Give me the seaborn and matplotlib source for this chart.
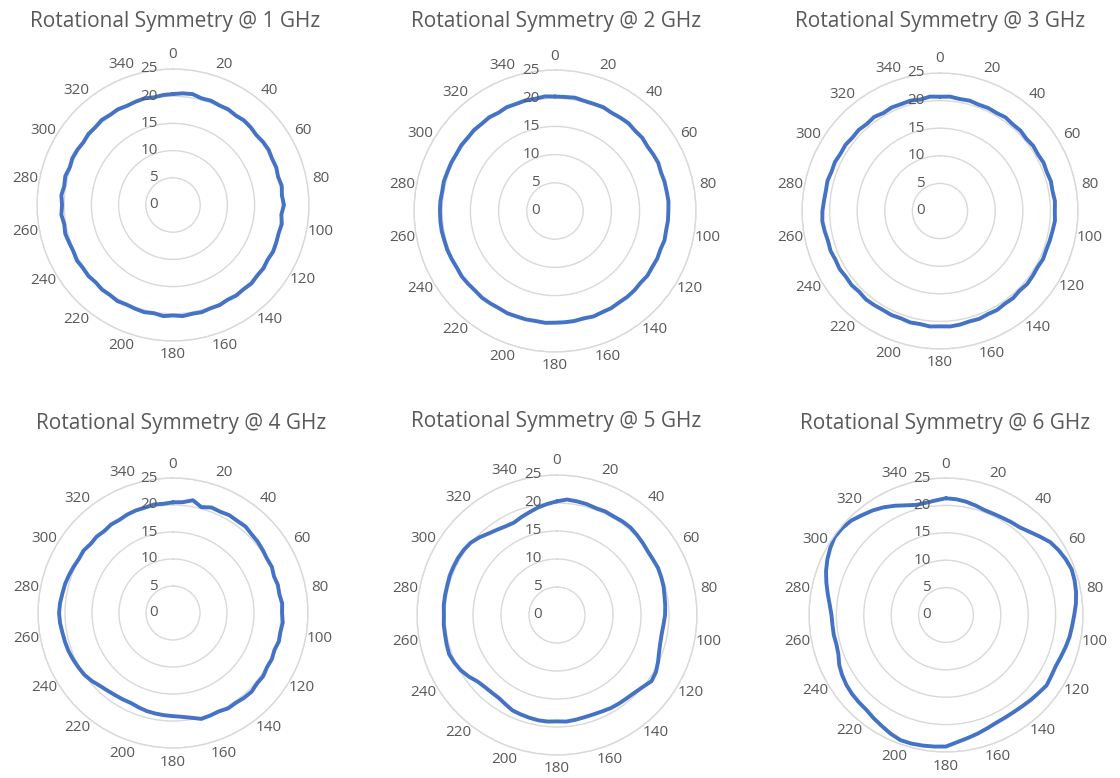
import numpy as np
import matplotlib
matplotlib.use("Agg")
import matplotlib.pyplot as plt
import matplotlib.transforms as mtransforms
import seaborn as sns

# angles every 5 degrees, radius values
angles = list(range(0, 360, 5))

ghz_1 = [20.4, 20.6, 20.7, 20.3, 20.4, 20.2, 20.3, 20.1, 20.3, 20.2, 20.0, 20.2,
         20.3, 20.1, 20.2, 20.0, 20.3, 20.1, 20.4, 20.0, 20.3, 20.1, 20.2, 20.3,
         20.1, 20.3, 20.2, 20.4, 20.2, 20.3, 20.1, 20.3, 20.2, 20.4, 20.3, 20.5,
         20.3, 20.5, 20.2, 20.4, 20.3, 20.2, 20.4, 20.2, 20.3, 20.1, 20.3, 20.2,
         20.4, 20.2, 20.3, 20.5, 20.3, 20.6, 20.4, 20.6, 20.3, 20.5, 20.2, 20.4,
         20.3, 20.1, 20.3, 20.2, 20.4, 20.2, 20.3, 20.1, 20.2, 20.3, 20.1, 20.3]

ghz_2 = [20.3, 20.3, 20.4, 20.2, 20.2, 20.3, 20.1, 20.2, 20.3, 20.1, 20.2, 20.0,
         20.1, 20.2, 20.0, 20.1, 20.1, 20.2, 20.1, 20.1, 20.0, 20.1, 19.9, 20.0,
         19.9, 20.0, 19.8, 19.9, 19.9, 19.8, 19.9, 19.8, 19.9, 19.7, 19.8, 19.8,
         19.8, 19.9, 19.8, 19.9, 19.9, 20.0, 19.9, 20.0, 20.1, 20.0, 20.1, 20.2,
         20.1, 20.2, 20.3, 20.3, 20.4, 20.4, 20.4, 20.4, 20.3, 20.4, 20.3, 20.3,
         20.2, 20.3, 20.2, 20.3, 20.2, 20.3, 20.1, 20.3, 20.2, 20.3, 20.2, 20.4]

ghz_3 = [20.7, 20.8, 20.6, 20.7, 20.5, 20.6, 20.5, 20.7, 20.5, 20.6, 20.4, 20.6,
         20.5, 20.7, 20.6, 20.8, 20.7, 20.9, 20.8, 20.9, 20.7, 20.6, 20.5, 20.6,
         20.4, 20.5, 20.6, 20.4, 20.6, 20.5, 20.7, 20.6, 20.8, 20.7, 20.9, 21.0,
         20.9, 21.0, 20.8, 20.9, 20.7, 20.8, 20.7, 20.8, 20.9, 20.7, 20.9, 20.8,
         21.0, 20.9, 21.1, 21.0, 21.2, 21.4, 21.3, 21.1, 21.0, 21.1, 20.9, 21.0,
         20.8, 20.9, 20.7, 20.8, 20.6, 20.8, 20.5, 20.7, 20.6, 20.7, 20.5, 20.8]

ghz_4 = [20.5, 20.6, 21.2, 20.3, 20.8, 20.7, 20.9, 20.8, 20.9, 20.6, 20.5, 20.3,
         20.1, 20.2, 19.9, 20.1, 20.0, 20.3, 20.2, 20.4, 20.2, 20.3, 20.0, 20.2,
         20.1, 20.4, 20.3, 20.6, 20.5, 20.3, 20.4, 20.1, 20.2, 20.3, 19.7, 19.3,
         19.1, 19.0, 18.9, 18.8, 18.6, 18.4, 18.5, 18.6, 18.8, 19.1, 19.6, 20.0,
         20.2, 20.4, 20.6, 20.7, 20.8, 21.0, 21.1, 21.0, 20.8, 20.7, 20.5, 20.3,
         20.1, 20.2, 19.9, 20.0, 19.8, 20.0, 19.9, 20.1, 20.2, 20.2, 20.4, 20.3]

ghz_5 = [20.3, 20.7, 20.6, 20.5, 20.3, 20.4, 20.3, 20.4, 20.4, 20.2, 20.0, 19.8,
         19.8, 19.9, 19.8, 19.7, 19.5, 19.4, 19.3, 19.1, 19.0, 19.1, 19.4, 19.9,
         20.4, 20.6, 20.0, 19.6, 19.4, 19.3, 19.2, 19.0, 18.9, 18.9, 19.0, 19.1,
         19.0, 19.1, 19.1, 19.0, 18.9, 18.8, 18.4, 18.1, 18.1, 18.2, 18.5, 19.2,
         19.8, 20.2, 20.5, 20.4, 20.3, 20.3, 20.2, 20.3, 20.3, 20.3, 20.4, 20.4,
         20.4, 20.3, 20.1, 19.6, 19.0, 18.6, 18.3, 18.2, 18.6, 19.0, 19.5, 19.9]

ghz_6 = [21.3, 21.2, 21.0, 20.7, 20.4, 20.4, 20.5, 20.7, 20.9, 21.5, 22.3, 23.2,
         23.7, 24.1, 24.4, 24.3, 24.1, 23.8, 23.4, 23.1, 22.9, 22.6, 22.3, 22.1,
         22.2, 22.4, 22.1, 21.9, 21.7, 21.6, 21.6, 21.7, 22.0, 22.4, 22.8, 23.3,
         24.0, 24.1, 24.2, 24.3, 24.3, 23.9, 23.4, 23.0, 22.6, 22.5, 22.4, 22.2,
         21.9, 21.5, 20.9, 20.7, 20.8, 20.8, 20.9, 21.3, 21.9, 22.6, 23.3, 23.9,
         24.4, 24.8, 24.7, 24.4, 23.8, 23.3, 22.7, 22.0, 21.3, 20.8, 20.8, 21.0]

series = [ghz_1, ghz_2, ghz_3, ghz_4, ghz_5, ghz_6]
titles = ["Rotational Symmetry @ %d GHz" % f for f in range(1, 7)]
r_ticks = [0, 5, 10, 15, 20, 25]
theta_ticks = list(range(0, 360, 20))

# chart centre (px), radius (px), title position (px)
panels = [
    (173, 205, 136, 175, 22),
    (555, 211, 141, 556, 22),
    (940, 211, 138, 940, 22),
    (173, 613, 135, 181, 424),
    (557, 615, 140, 556, 422),
    (946, 615, 137, 945, 424),
]

W, H = 1120, 778
sns.set_theme(style="white")
plt.rcParams["font.family"] = ["Open Sans", "DejaVu Sans"]
gray = "#595959"
grid = "#D9D9D9"
blue = "#4472C4"

fig = plt.figure(figsize=(W / 100, H / 100), dpi=100)

for vals, title, (cx, cy, R, tx, ty) in zip(series, titles, panels):
    ax = fig.add_axes([(cx - R) / W, (H - cy - R) / H, 2 * R / W, 2 * R / H],
                      projection="polar")
    ax.set_theta_zero_location("N")
    ax.set_theta_direction(-1)

    th = np.deg2rad(angles + [360])
    rr = vals + [vals[0]]
    sns.lineplot(x=th, y=rr, ax=ax, sort=False, estimator=None,
                 color=blue, linewidth=2.8)
    ax.set_xlabel("")
    ax.set_ylabel("")

    ax.set_ylim(0, 25)
    ax.set_yticks(r_ticks)
    ax.set_yticklabels([])
    ax.yaxis.grid(True, color=grid, linewidth=1.0)
    ax.xaxis.grid(False)
    ax.set_xticks([])
    ax.spines["polar"].set_color(grid)
    ax.spines["polar"].set_linewidth(1.0)

    # angle labels just outside the outer ring
    for t in theta_ticks:
        a = np.deg2rad(t)
        lab_off = mtransforms.offset_copy(ax.transData, fig=fig, units="dots",
                                          x=14 * np.sin(a), y=14 * np.cos(a))
        ax.text(a, 25, str(t), transform=lab_off, ha="center", va="center",
                fontsize=11, color=gray, clip_on=False)

    # radial labels along the 0 direction
    off = mtransforms.offset_copy(ax.transData, fig=fig, x=-15, y=0, units="dots")
    for t in r_ticks:
        ax.text(0, t, str(t), transform=off, ha="right", va="center",
                fontsize=11, color=gray)

    fig.text(tx / W, 1 - ty / H, title, ha="center", va="center",
             fontsize=15, color=gray)

fig.savefig("out.png", dpi=100)
